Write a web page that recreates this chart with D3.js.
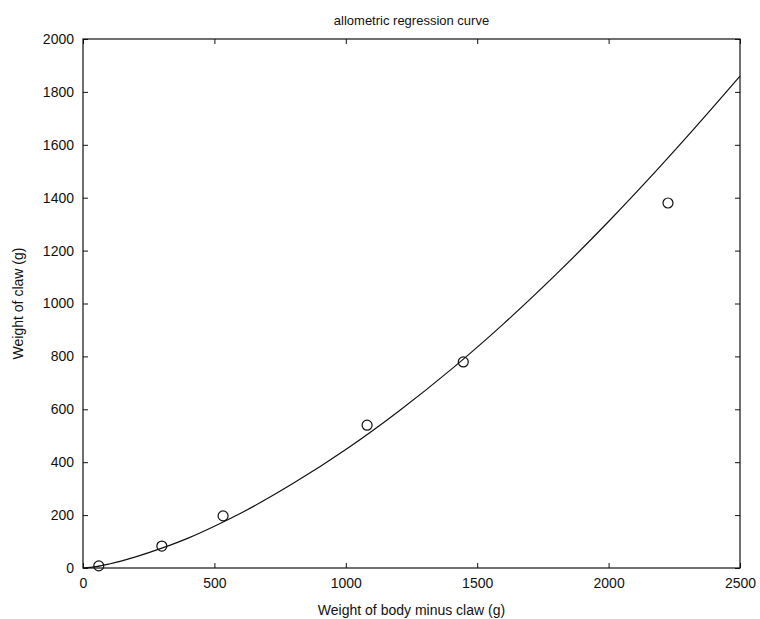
<!DOCTYPE html>
<html>
<head>
<meta charset="utf-8">
<script src="https://cdn.jsdelivr.net/npm/d3@7"></script>
<style>
  body { margin: 0; background: #fff; }
  text { font-family: "Liberation Sans", Arial, sans-serif; fill: #111; }
</style>
</head>
<body>
<div id="chart"></div>
<script>
// observed data (body weight minus claw, claw weight)
var bodyWeight = [60, 300, 533, 1081, 1447, 2226];
var clawWeight = [8, 83, 197, 540, 779, 1380];

// fitted regression curve
var curveX = [0, 50, 100, 200, 300, 400, 500, 600, 800, 1000, 1200, 1400, 1600, 1800, 2000, 2200, 2400, 2500];
var curveY = [0, 5, 15, 42, 75, 113, 158, 207, 320, 448, 592, 750, 923, 1110, 1310, 1522, 1745, 1860];

var xTicks = [0, 500, 1000, 1500, 2000, 2500];
var yTicks = [0, 200, 400, 600, 800, 1000, 1200, 1400, 1600, 1800, 2000];

var W = 760, H = 619;
var margin = {top: 39, right: 20, bottom: 51, left: 83};
var width = W - margin.left - margin.right;
var height = H - margin.top - margin.bottom;

var svg = d3.select("#chart").append("svg")
    .attr("width", W)
    .attr("height", H)
    .append("g")
    .attr("transform", "translate(" + margin.left + "," + margin.top + ")");

var x = d3.scaleLinear().domain([0, 2500]).range([0, width]);
var y = d3.scaleLinear().domain([0, 2000]).range([height, 0]);
var fmt = d3.format("d");

// Axes with inward ticks (bottom / left labelled, top / right mirrored)
function styleAxis(g) {
    g.select(".domain").remove();
    g.selectAll(".tick line").attr("stroke", "#111");
    g.selectAll(".tick text").style("font-size", "14px");
}

svg.append("g")
    .attr("transform", "translate(0," + height + ")")
    .call(d3.axisBottom(x).tickValues(xTicks).tickFormat(fmt).tickSizeInner(-5).tickPadding(10))
    .call(styleAxis);
svg.append("g")
    .call(d3.axisTop(x).tickValues(xTicks).tickSizeInner(-5).tickFormat(""))
    .call(styleAxis);
svg.append("g")
    .call(d3.axisLeft(y).tickValues(yTicks).tickFormat(fmt).tickSizeInner(-5).tickPadding(9))
    .call(styleAxis);
svg.append("g")
    .attr("transform", "translate(" + width + ",0)")
    .call(d3.axisRight(y).tickValues(yTicks).tickSizeInner(-5).tickFormat(""))
    .call(styleAxis);

svg.selectAll(".tick text").attr("font-family", "Liberation Sans, Arial, sans-serif");

// frame
svg.append("rect")
    .attr("width", width)
    .attr("height", height)
    .attr("fill", "none")
    .attr("stroke", "#111")
    .attr("stroke-width", 1.2);

// regression curve
var curveData = curveX.map(function(d, i) { return {x: d, y: curveY[i]}; });
svg.append("path")
    .datum(curveData)
    .attr("fill", "none")
    .attr("stroke", "#111")
    .attr("stroke-width", 1.2)
    .attr("d", d3.line()
        .curve(d3.curveMonotoneX)
        .x(function(d) { return x(d.x); })
        .y(function(d) { return y(d.y); }));

// data points
svg.selectAll("circle.pt")
    .data(bodyWeight)
    .enter().append("circle")
    .attr("class", "pt")
    .attr("cx", function(d) { return x(d); })
    .attr("cy", function(d, i) { return y(clawWeight[i]); })
    .attr("r", 5)
    .attr("fill", "none")
    .attr("stroke", "#111")
    .attr("stroke-width", 1.2);

// labels
svg.append("text")
    .attr("x", width / 2)
    .attr("y", -14)
    .attr("text-anchor", "middle")
    .style("font-size", "13px")
    .text("allometric regression curve");

svg.append("text")
    .attr("x", width / 2)
    .attr("y", height + 47)
    .attr("text-anchor", "middle")
    .style("font-size", "14px")
    .text("Weight of body minus claw (g)");

svg.append("text")
    .attr("transform", "translate(-60," + (height / 2) + ")rotate(-90)")
    .attr("text-anchor", "middle")
    .style("font-size", "14px")
    .text("Weight of claw (g)");
</script>
</body>
</html>
